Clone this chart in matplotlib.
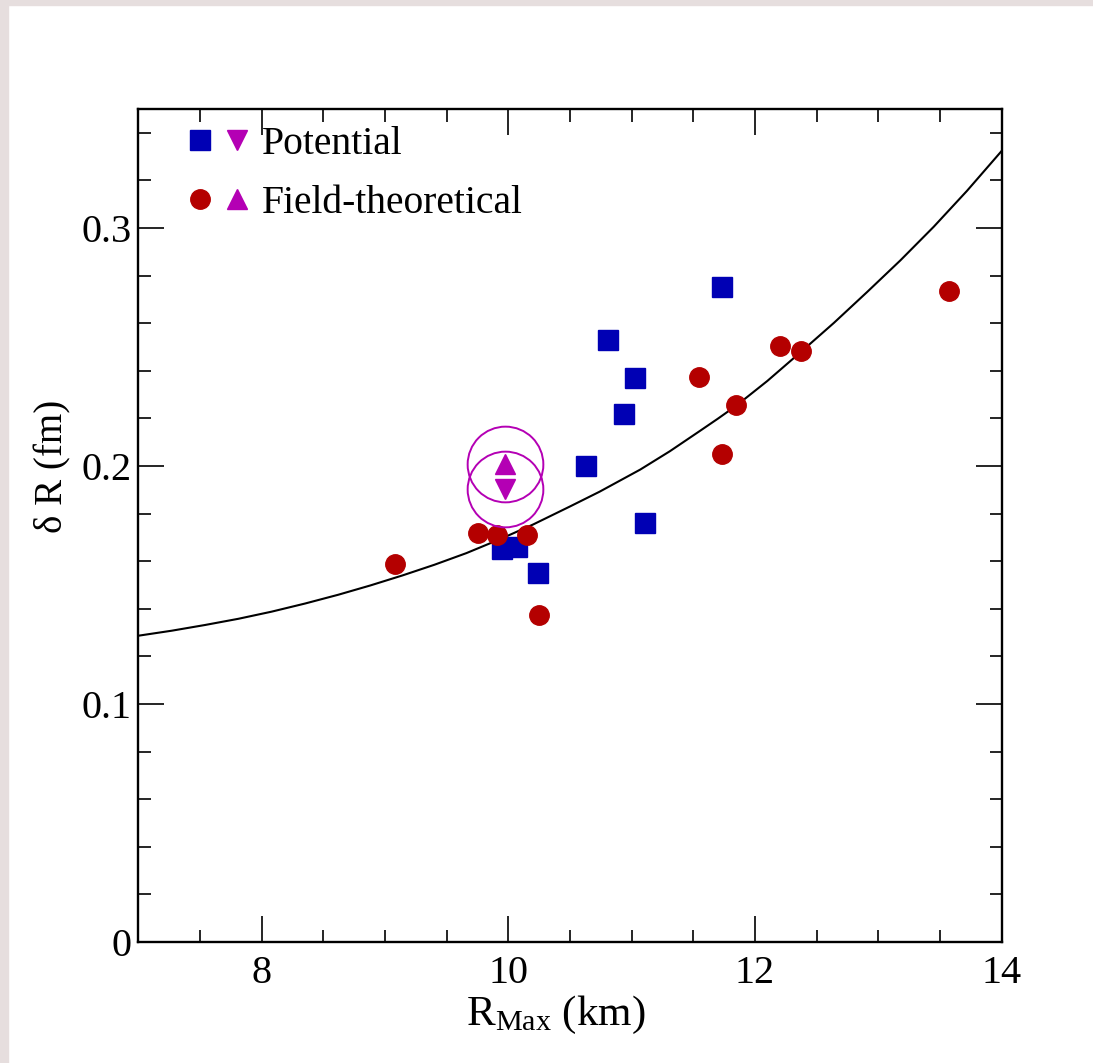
import matplotlib
matplotlib.use('Agg')
import matplotlib.pyplot as plt
from matplotlib.patches import Rectangle
from matplotlib.legend_handler import HandlerTuple
from matplotlib.ticker import MultipleLocator, FuncFormatter

plt.rcParams['font.family'] = ['Liberation Serif', 'DejaVu Serif']
plt.rcParams['mathtext.fontset'] = 'custom'
plt.rcParams['mathtext.rm'] = 'Liberation Serif'
plt.rcParams['mathtext.it'] = 'Liberation Serif:italic'

# potential models (R_max in km, delta R in fm)
pot_r = [9.95, 10.07, 10.24, 10.63, 10.81, 10.94, 11.03, 11.11, 11.73]
pot_dr = [0.165, 0.166, 0.155, 0.200, 0.253, 0.222, 0.237, 0.176, 0.275]

# field-theoretical models
fld_r = [9.08, 9.75, 9.91, 10.15, 10.25, 11.55, 11.73, 11.85, 12.20, 12.37, 13.57]
fld_dr = [0.159, 0.172, 0.171, 0.171, 0.1375, 0.2375, 0.205, 0.2255, 0.2505, 0.2485, 0.2735]

# the two highlighted models
hi_r = 9.97
hi_pot_dr = 0.1905
hi_fld_dr = 0.2008

# fit curve
fit_r = [7.0, 7.27, 7.54, 7.81, 8.08, 8.35, 8.62, 8.88, 9.14, 9.40, 9.66, 9.93,
         10.20, 10.50, 10.74, 11.07, 11.31, 11.55, 11.70, 11.85, 12.10, 12.37,
         12.64, 12.91, 13.18, 13.45, 13.72, 14.0]
fit_dr = [0.1287, 0.1308, 0.1332, 0.1358, 0.1388, 0.1422, 0.1459, 0.1498, 0.1540,
          0.1585, 0.1634, 0.1692, 0.1754, 0.1830, 0.1892, 0.1985, 0.2062, 0.2146,
          0.2199, 0.2254, 0.2357, 0.2478, 0.2601, 0.2731, 0.2864, 0.3005, 0.3156,
          0.3323]

blue = '#0000b4'
red = '#b40000'
mag = '#b400b4'

fig = plt.figure(figsize=(10.93, 10.63), dpi=100)
# light frame on the left and top edges
fig.patches.append(Rectangle((0, 0), 8 / 1093, 1, transform=fig.transFigure,
                             color='#e6dede', zorder=-1))
fig.patches.append(Rectangle((0, 1 - 5 / 1063), 1, 5 / 1063, transform=fig.transFigure,
                             color='#e6dede', zorder=-1))

ax = fig.add_axes([0.1267, 0.1138, 0.7896, 0.7837])

ax.plot(fit_r, fit_dr, color='black', lw=1.5, zorder=2)

sq, = ax.plot(pot_r, pot_dr, 's', color=blue, ms=14, mec=blue, zorder=3)
ci, = ax.plot(fld_r, fld_dr, 'o', color=red, ms=14, mec=red, zorder=3)
dn, = ax.plot([hi_r], [hi_pot_dr], 'v', color=mag, ms=14, zorder=4)
up, = ax.plot([hi_r], [hi_fld_dr], '^', color=mag, ms=14, zorder=4)
ax.plot([hi_r, hi_r], [hi_pot_dr, hi_fld_dr], 'o', ms=54.5, mfc='none', mec=mag,
        mew=1.4, zorder=4)

ax.set_xlim(7, 14)
ax.set_ylim(0, 0.35)
ax.xaxis.set_major_locator(MultipleLocator(2))
ax.xaxis.set_minor_locator(MultipleLocator(0.5))
ax.yaxis.set_major_locator(MultipleLocator(0.1))
ax.yaxis.set_minor_locator(MultipleLocator(0.02))
ax.yaxis.set_major_formatter(FuncFormatter(lambda v, p: '0' if abs(v) < 1e-9 else f'{v:.1f}'))
ax.xaxis.set_major_formatter(FuncFormatter(lambda v, p: '' if abs(v - 7) < 1e-9 else f'{v:.0f}'))

ax.tick_params(which='both', direction='in', top=True, right=True, labelsize=29, width=1.2)
ax.tick_params(which='major', length=18.5)
ax.tick_params(which='minor', length=9)
ax.tick_params(axis='x', pad=9)
ax.tick_params(axis='y', pad=5)
for s in ax.spines.values():
    s.set_linewidth(1.7)

ax.set_xlabel(r'R$_{\mathrm{Max}}$ (km)', fontsize=31)
ax.xaxis.set_label_coords(0.483, -0.062)
ax.set_ylabel('δ R (fm)', fontsize=28)
ax.yaxis.set_label_coords(-0.078, 0.571)

ax.legend([(sq, dn), (ci, up)], ['Potential', 'Field-theoretical'],
          handler_map={tuple: HandlerTuple(ndivide=None, pad=0)},
          loc='upper left', bbox_to_anchor=(0.05, 0.980), borderaxespad=0, borderpad=0,
          frameon=False, fontsize=28.5, handlelength=1.85, handletextpad=0.17,
          labelspacing=0.57)

fig.savefig('out.png', dpi=100)
